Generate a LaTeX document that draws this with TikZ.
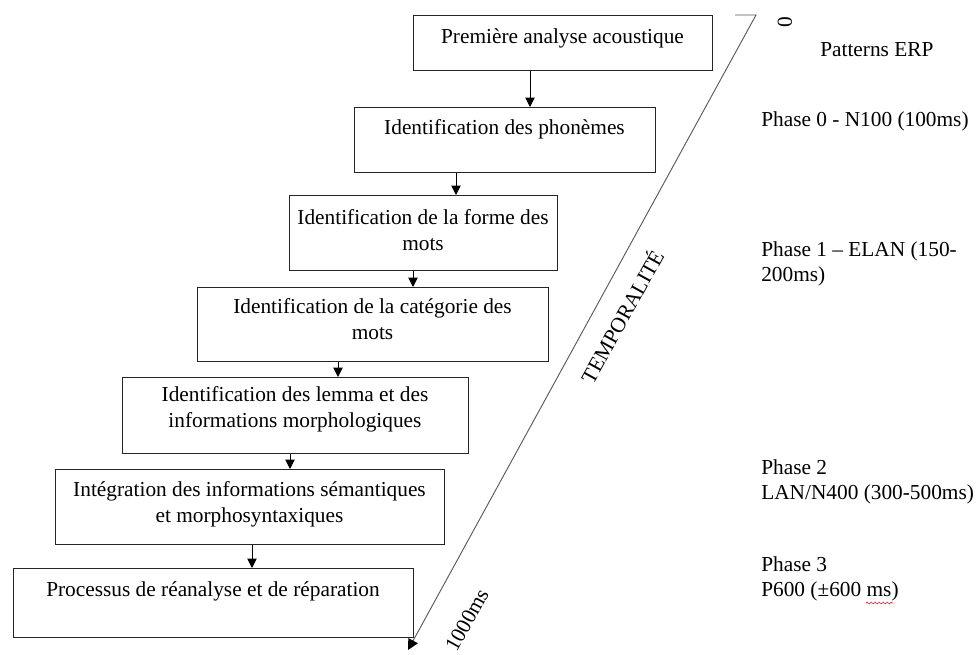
\documentclass[tikz,border=0pt]{standalone}
\usepackage{fontspec}
\setmainfont{Liberation Serif}
\usetikzlibrary{arrows.meta,decorations.pathmorphing}
\begin{document}
\begin{tikzpicture}[x=0.75pt,y=-0.75pt,
  pbox/.style n args={2}{draw=black!85,line width=0.75pt,rectangle,inner sep=0pt,anchor=north west,
     minimum width=#1*0.75pt,minimum height=#2*0.75pt},
  boxtxt/.style={anchor=base,align=center,inner sep=0pt,font=\fontsize{16}{20}\selectfont},
  side/.style={anchor=base west,align=left,inner sep=0pt,font=\fontsize{16}{18.8}\selectfont},
  axis/.style={anchor=center,inner sep=0pt,rotate=61,font=\fontsize{16}{20}\selectfont},
  arr/.style={line width=0.75pt,-{Triangle[width=7pt,length=7pt]}},
]
\useasboundingbox (0,0) rectangle (976,655);

% boxes
\node[pbox={299}{55}] (b1) at (413,15) {};
\node[pbox={301}{65}] (b2) at (354,107) {};
\node[pbox={268}{75}] (b3) at (289,195) {};
\node[pbox={351}{74}] (b4) at (197,287) {};
\node[pbox={346}{76}] (b5) at (122,377) {};
\node[pbox={389}{75}] (b6) at (55,469) {};
\node[pbox={400}{69}] (b7) at (13,568) {};

% box texts (base = baseline of last line)
\node[boxtxt] (t1) at (562.5,44) {Première analyse acoustique};
\node[boxtxt] (t2) at (504.5,135) {Identification des phonèmes};
\node[boxtxt] (t3) at (423,251) {Identification de la forme des\\mots};
\node[boxtxt] (t4) at (372.5,340) {Identification de la catégorie des\\mots};
\node[boxtxt] (t5) at (295,428) {Identification des lemma et des\\informations morphologiques};
\node[boxtxt] (t6) at (249.5,523) {Intégration des informations sémantiques\\et morphosyntaxiques};
\node[boxtxt] (t7) at (213,597) {Processus de réanalyse et de réparation};

% arrow columns
\coordinate (x1) at (530,0);
\coordinate (x2) at (456,0);
\coordinate (x3) at (413,0);
\coordinate (x4) at (338,0);
\coordinate (x5) at (290,0);
\coordinate (x6) at (252,0);
\draw[arr] (b1.south -| x1) -- (b2.north -| x1);
\draw[arr] (b2.south -| x2) -- (b3.north -| x2);
\draw[arr] (b3.south -| x3) -- (b4.north -| x3);
\draw[arr] (b4.south -| x4) -- (b5.north -| x4);
\draw[arr] (b5.south -| x5) -- (b6.north -| x5);
\draw[arr] (b6.south -| x6) -- (b7.north -| x6);

% time axis
\coordinate (tk) at (735,15);
\coordinate (t0) at (756,15);
\coordinate (tend) at (408,650);
\draw[black!65,line width=0.7pt,-{Triangle[width=8pt,length=8pt,fill=black,color=black]}] (tk) -- (t0) -- (tend);
\node[inner sep=0pt,rotate=90,font=\fontsize{16}{20}\selectfont] (zero) at (785,22) {0};
\node[axis] (temp) at (621,316) {TEMPORALITÉ};
\node[axis] (ms) at (467,620) {1000ms};

% right column (base = baseline of last line)
\node[side] (pat) at (820,57) {Patterns ERP};
\node[side] (p0) at (761,127) {Phase 0 - N100 (100ms)};
\node[side] (p1) at (761,282) {Phase 1 – ELAN (150-\\200ms)};
\node[side] (p2) at (761,500) {Phase 2\\LAN/N400 (300-500ms)};
\node[side] (p3) at (761,597) {Phase 3\\P600 (±600 ms)};
\draw[red!85,line width=0.5pt,decorate,decoration={snake,amplitude=0.7pt,segment length=3pt}] (866,603) -- (893,603);
\end{tikzpicture}
\end{document}
